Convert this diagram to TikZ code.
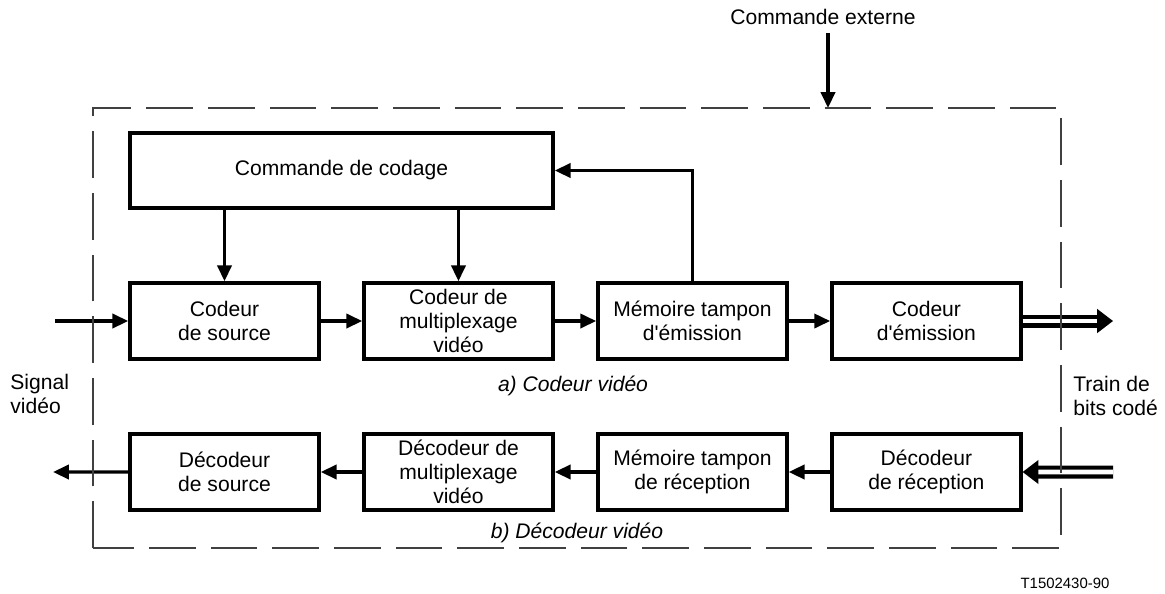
\documentclass[tikz,border=0pt]{standalone}
\usepackage{fontspec}
\setmainfont{Liberation Sans}
\usetikzlibrary{positioning,arrows.meta,calc}
\tikzset{
  flowarrow/.style={-{Triangle[length=9pt, width=8pt]}, line width=1.9pt},
  dblline/.style={double, double distance=2.8pt, line width=2.3pt},
  dbltip/.style={-{Triangle[length=9pt, width=13.5pt]}, line width=1pt},
  blockbox/.style={draw, line width=2pt, minimum width=3.78cm, minimum height=1.52cm, align=center, inner sep=0pt},
  frameline/.style={draw=black!75, line width=0.6pt, dash pattern=on 26.6pt off 8.5pt},
  caption/.style={font=\fontsize{12}{13.6}\selectfont\itshape}
}

\begin{document}
\begin{tikzpicture}[x=0.02cm, y=-0.02cm, every node/.style={font=\fontsize{12}{13.6}\selectfont}]
  \useasboundingbox (0,0) rectangle (1165,593);
  % coder
  \node[blockbox, minimum width=8.46cm, minimum height=1.5cm] (cc) at (341.5,170.5) {Commande de codage};
  \node[blockbox] (src) at (224.5,321) {Codeur\\de source};
  \node[blockbox, right=0.83cm of src] (mux) {Codeur de\\multiplexage\\vidéo};
  \node[blockbox, right=0.83cm of mux] (mem) {Mémoire tampon\\d\textquotesingle émission};
  \node[blockbox, right=0.83cm of mem] (cde) {Codeur\\d\textquotesingle émission};
  % decoder
  \node[blockbox, below=1.43cm of src] (dsrc) {Décodeur\\de source};
  \node[blockbox, below=1.43cm of mux] (dmux) {Décodeur de\\multiplexage\\vidéo};
  \node[blockbox, below=1.43cm of mem] (rmem) {Mémoire tampon\\de réception};
  \node[blockbox, below=1.43cm of cde] (rcv) {Décodeur\\de réception};

  \node (ext) at (823,17) {Commande externe};
  \node[anchor=west, align=left, inner sep=0pt] (sig) at (10,394) {Signal\\vidéo};
  \node[anchor=west, align=left, inner sep=0pt] (train) at (1073,396) {Train de\\bits codé};
  \node[caption] (capa) at (573,386) {a) Codeur vidéo};
  \node[caption] (capb) at (577,533) {b) Décodeur vidéo};
  \node[font=\fontsize{8.5}{10}\selectfont] (ref) at (1065,583) {T1502430-90};

  \coordinate (sigin) at (55,321);
  \coordinate (sigout) at (53,472);
  \coordinate (trainout) at (1113,321);
  \coordinate (trainin) at (1113,472);
  \coordinate (extstart) at (828,33);
  \coordinate (extend) at (828,108);

  \draw[flowarrow] (extstart) -- (extend);
  \draw[flowarrow] (cc.south -| src.north) -- (src.north);
  \draw[flowarrow] (cc.south -| mux.north) -- (mux.north);
  \draw[flowarrow] (mem.north) |- (cc.east);
  \draw[flowarrow] (sigin) -- (src);
  \draw[flowarrow] (src) -- (mux);
  \draw[flowarrow] (mux) -- (mem);
  \draw[flowarrow] (mem) -- (cde);
  \draw[dblline, shorten >=7pt] (cde.east) -- (trainout);
  \draw[dbltip] ($(trainout)+(-12,0)$) -- (trainout);

  \draw[dblline, shorten >=7pt] (trainin) -- (rcv.east);
  \draw[dbltip] ($(rcv.east)+(12,0)$) -- (rcv.east);
  \draw[flowarrow] (rcv) -- (rmem);
  \draw[flowarrow] (rmem) -- (dmux);
  \draw[flowarrow] (dmux) -- (dsrc);
  \draw[flowarrow] (dsrc) -- (sigout);

  % frame
  \draw[frameline] (93,548) rectangle (1061,108);
\end{tikzpicture}
\end{document}
